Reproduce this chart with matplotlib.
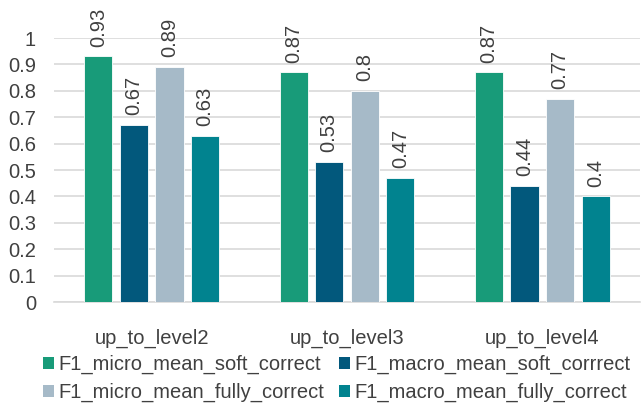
import matplotlib
matplotlib.use("Agg")
import matplotlib.pyplot as plt
import numpy as np
from matplotlib.patches import Patch

categories = ["up_to_level2", "up_to_level3", "up_to_level4"]
series_names = [
    "F1_micro_mean_soft_correct",
    "F1_macro_mean_soft_corrrect",
    "F1_micro_mean_fully_correct",
    "F1_macro_mean_fully_correct",
]
micro_soft = [0.93, 0.87, 0.87]
macro_soft = [0.67, 0.53, 0.44]
micro_fully = [0.89, 0.80, 0.77]
macro_fully = [0.63, 0.47, 0.40]
value_labels = [
    ["0.93", "0.87", "0.87"],
    ["0.67", "0.53", "0.44"],
    ["0.89", "0.8", "0.77"],
    ["0.63", "0.47", "0.4"],
]
y_ticks = [0, 0.1, 0.2, 0.3, 0.4, 0.5, 0.6, 0.7, 0.8, 0.9, 1.0]
y_tick_labels = ["0", "0.1", "0.2", "0.3", "0.4", "0.5", "0.6", "0.7", "0.8", "0.9", "1"]

colors = ["#189b79", "#02587c", "#a6bac8", "#01838f"]
text_color = "#404040"
fs = 14.5

plt.rcParams["font.family"] = ["Liberation Sans", "DejaVu Sans"]

fig = plt.figure(figsize=(6.42, 4.12), dpi=100)
ax = fig.add_axes([54 / 642, 1 - 302 / 412, 586 / 642, 264 / 412])

series = [micro_soft, macro_soft, micro_fully, macro_fully]
x = np.arange(len(categories))
width = 0.144
pitch = 0.182
offsets = (np.arange(4) - 1.5) * pitch

for i, (vals, col) in enumerate(zip(series, colors)):
    bars = ax.bar(x + offsets[i], vals, width, color=col, edgecolor="white",
                  linewidth=0.6, zorder=3)
    for b, lab in zip(bars, value_labels[i]):
        ax.annotate(lab, (b.get_x() + b.get_width() / 2, b.get_height()),
                    xytext=(0, 7), textcoords="offset points", rotation=90,
                    ha="center", va="bottom", fontsize=fs, color=text_color,
                    annotation_clip=False)

ax.set_xlim(-0.5, 2.5)
ax.set_ylim(0, 1.0)
ax.set_yticks(y_ticks)
ax.set_yticklabels(y_tick_labels)
ax.set_xticks(x)
ax.set_xticklabels(categories)
ax.tick_params(axis="y", length=0, pad=13, labelsize=fs, labelcolor=text_color)
ax.tick_params(axis="x", length=0, pad=19, labelsize=fs, labelcolor=text_color)
ax.grid(axis="y", color="#d9d9d9", linewidth=1.2, zorder=0)
for s in ["top", "right", "left"]:
    ax.spines[s].set_visible(False)
ax.spines["bottom"].set_color("#d9d9d9")
ax.spines["bottom"].set_linewidth(1.2)

handles = [Patch(facecolor=c, edgecolor="none") for c in colors]
order = [0, 2, 1, 3]
fig.legend([handles[i] for i in order], [series_names[i] for i in order],
           ncol=2, loc="upper left", bbox_to_anchor=(43 / 642, 1 - 355 / 412),
           frameon=False, fontsize=fs, labelcolor=text_color,
           handlelength=0.55, handleheight=0.55, handletextpad=0.2,
           columnspacing=0.75, labelspacing=0.42, borderaxespad=0, borderpad=0)

fig.savefig("out.png", dpi=100, facecolor="white")
